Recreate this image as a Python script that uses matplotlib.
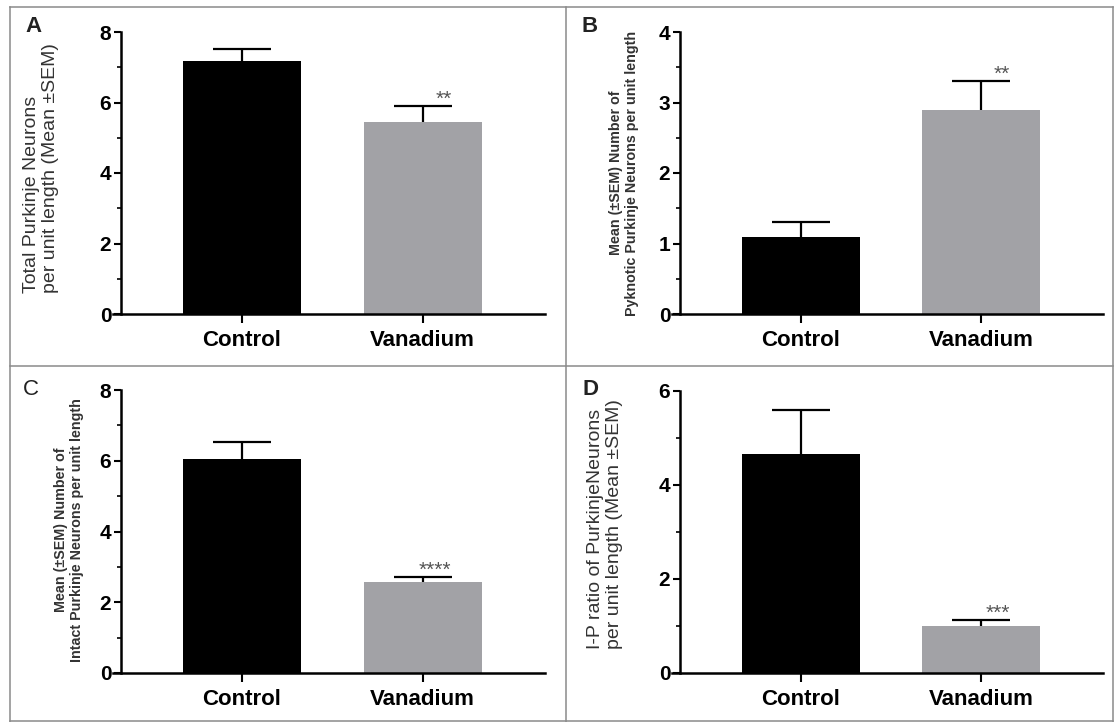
import matplotlib
matplotlib.use('Agg')
import matplotlib.pyplot as plt
from matplotlib.lines import Line2D
from matplotlib.ticker import MultipleLocator
import numpy as np

plt.rcParams['font.family'] = ['Liberation Sans', 'DejaVu Sans']

groups = ['Control', 'Vanadium']
bar_colors = ['#000000', '#a2a2a6']

# panel data: mean and SEM
mean_A = [7.17, 5.46]
sem_A = [0.36, 0.45]
mean_B = [1.09, 2.90]
sem_B = [0.22, 0.40]
mean_C = [6.04, 2.57]
sem_C = [0.48, 0.15]
mean_D = [4.67, 1.01]
sem_D = [0.93, 0.11]

stars = ['**', '**', '****', '***']
letters = ['A', 'B', 'C', 'D']
ylabels = ['Total Purkinje Neurons\nper unit length (Mean \u00b1SEM)',
           'Mean (\u00b1SEM) Number of\nPyknotic Purkinje Neurons per unit length',
           'Mean (\u00b1SEM) Number of\nIntact Purkinje Neurons per unit length',
           'I-P ratio of PurkinjeNeurons\nper unit length (Mean \u00b1SEM)']
ymax = [8, 4, 8, 6]
ystep = [2, 1, 2, 2]

W, H = 1115, 722
fig = plt.figure(figsize=(W/100, H/100), dpi=100)

# pixel boxes: left, top, right, bottom, spine x
boxes = [(113, 32, 545, 314, 121),
         (672, 32, 1103, 314, 680),
         (113, 390, 545, 673, 121),
         (672, 391, 1103, 673, 680)]
centers = [(242, 422.5), (800.5, 981), (242, 422.5), (800.5, 981)]

means = [mean_A, mean_B, mean_C, mean_D]
sems = [sem_A, sem_B, sem_C, sem_D]

for i in range(4):
    l, t, r, b, sx = boxes[i]
    c0, c1 = centers[i]
    unit = c1 - c0
    ax = fig.add_axes([l/W, 1-b/H, (r-l)/W, (b-t)/H])
    x = np.arange(len(groups))
    ax.bar(x, means[i], width=118/unit, color=bar_colors, zorder=2)
    eb = ax.errorbar(x, means[i], yerr=[np.zeros(2), sems[i]], fmt='none',
                     ecolor='black', elinewidth=1.6, capsize=20.9, capthick=1.6, zorder=3)
    eb[1][0].set_visible(False)
    top = means[i][1] + sems[i][1]
    ax.annotate(stars[i], (1 + 29/unit, top), xytext=(0, -2), textcoords='offset points',
                ha='right', va='bottom', fontsize=15, color='#555555')
    ax.set_xlim((l - c0)/unit, (r - c0)/unit)
    ax.set_ylim(0, ymax[i])
    for s in ['top', 'right']:
        ax.spines[s].set_visible(False)
    ax.spines['left'].set_position(('axes', (sx - l)/(r - l)))
    for s in ['left', 'bottom']:
        ax.spines[s].set_linewidth(1.8)
    ax.set_xticks(x)
    ax.set_xticklabels(groups, fontsize=16, fontweight='bold')
    ax.yaxis.set_major_locator(MultipleLocator(ystep[i]))
    ax.yaxis.set_minor_locator(MultipleLocator(ystep[i]/2))
    ax.set_yticks(np.arange(0, ymax[i]+0.1, ystep[i]))
    ax.set_yticklabels([str(int(v)) for v in np.arange(0, ymax[i]+0.1, ystep[i])],
                       fontsize=15, fontweight='bold')
    ax.tick_params(axis='x', length=6.5, width=1.5, pad=5)
    ax.tick_params(axis='y', which='major', length=5, width=1.5, pad=2)
    ax.tick_params(axis='y', which='minor', length=3, width=1.2)
    ax.patch.set_alpha(0)

# y labels
fig.text(41/W, 1-168/H, ylabels[0], rotation=90, ha='center', va='center',
         fontsize=14, color='#333333', multialignment='left')
fig.text(624/W, 1-173/H, ylabels[1], rotation=90, ha='center', va='center',
         fontsize=10.3, fontweight='bold', color='#333333', multialignment='center')
fig.text(69/W, 1-530/H, ylabels[2], rotation=90, ha='center', va='center',
         fontsize=10.3, fontweight='bold', color='#333333', multialignment='center')
fig.text(605/W, 1-524/H, ylabels[3], rotation=90, ha='center', va='center',
         fontsize=14, color='#333333', multialignment='left')

# panel letters
letter_pos = [(33, 26), (590, 26), (31, 390), (590, 390)]
for k in range(4):
    fig.text(letter_pos[k][0]/W, 1-letter_pos[k][1]/H, letters[k], ha='center', va='center',
             fontsize=16, fontweight='bold' if k != 2 else 'normal', color='#222222')

# frame lines
def fline(x0, y0, x1, y1):
    fig.add_artist(Line2D([x0/W, x1/W], [1-y0/H, 1-y1/H], transform=fig.transFigure,
                          color='#8a8a8a', lw=1.1))

fline(10, 7, 1113, 7)
fline(10, 7, 10, 722)
fline(1113, 7, 1113, 722)
fline(10, 721, 1113, 721)
fline(566, 7, 566, 722)
fline(10, 366, 1113, 366)

fig.savefig('out.png', dpi=100)
